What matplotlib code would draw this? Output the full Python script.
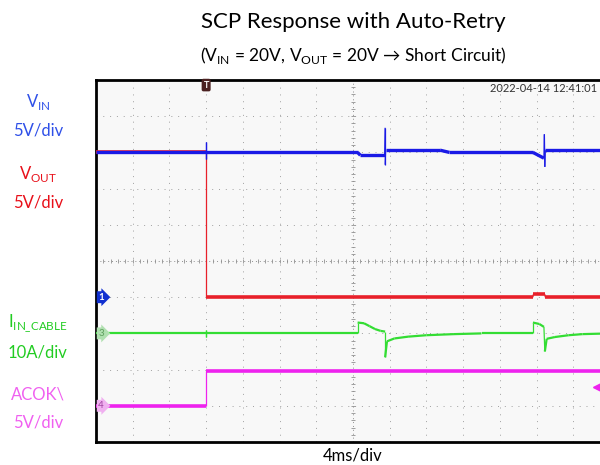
import matplotlib
matplotlib.use("Agg")
import matplotlib.pyplot as plt
from matplotlib.collections import LineCollection
import numpy as np

plt.rcParams['font.family'] = ['Lato', 'DejaVu Sans']
plt.rcParams['mathtext.fontset'] = 'custom'
plt.rcParams['mathtext.rm'] = 'Lato'

# --------- DATI (tempo in ms, trigger a 0) ---------
vin_t = [-12, 0, 0, 0, 0, 16.5, 16.8, 19.45, 19.5, 19.5, 19.55, 25.5, 26.5, 35.6, 36.8, 36.85, 36.9, 36.95, 44]
vin_v = [20.0, 20.0, 21.4, 19.1, 20.0, 20.0, 19.6, 19.6, 23.4, 18.3, 20.3, 20.3, 20.0, 20.0, 19.2, 22.5, 18.0, 20.3, 20.3]

vout_t = [-12, 0, 0, 35.6, 35.65, 36.9, 36.95, 44]
vout_v = [20.0, 20.0, 0.0, 0.0, 0.4, 0.4, 0.0, 0.0]

iin_t = [-12, 0, 0, 0, 0, 16.5, 16.5, 17.2, 17.8, 18.4, 19.0, 19.5, 19.5, 19.7, 20.5, 22, 24, 27, 30,
         35.6, 35.6, 36.3, 36.8, 36.9, 37.1, 38, 39.5, 41, 44]
iin_a = [0, 0, 1.0, -0.9, 0, 0, 3.0, 2.8, 2.0, 1.2, 0.7, 0.5, -6.6, -2.2, -1.4, -0.9, -0.5, -0.2, 0,
         0, 3.0, 2.6, 1.8, -5.0, -1.5, -1.0, -0.5, -0.2, 0]

acok_t = [-12, 0, 0, 44]
acok_v = [0.0, 0.0, 4.8, 4.8]

# scala (unita/div) e offset (div) dei canali
canali = {
    "vin": (5, 4.0),
    "vout": (5, 4.0),
    "iin": (10, 3.0),
    "acok": (5, 1.0),
}

def in_div(valori, canale):
    scala, offset = canali[canale]
    return np.array(valori) / scala + offset

def t_div(t):
    return np.array(t) / 4.0 + 3.0   # 4 ms/div, trigger a 3 div

def traccia(ax, t, v, canale, colore, spesso, sottile, z):
    # tratti orizzontali spessi, fronti verticali sottili (come sullo scope)
    x = t_div(t)
    y = in_div(v, canale)
    pts = np.column_stack([x, y])
    segs = np.stack([pts[:-1], pts[1:]], axis=1)
    larg = [spesso if x[i + 1] - x[i] > 0.04 else sottile for i in range(len(x) - 1)]
    ax.add_collection(LineCollection(segs, colors=colore, linewidths=larg, capstyle='butt', zorder=z))

# --------- FIGURA ---------
fig = plt.figure(figsize=(6, 4.65), dpi=100)
ax = fig.add_axes([96 / 600, 23 / 465, 514 / 600, 362 / 465])
ax.set_facecolor('#f8f8f8')
ax.set_xlim(0, 14)
ax.set_ylim(0, 10)
ax.set_xticks([])
ax.set_yticks([])
for s in ax.spines.values():
    s.set_linewidth(2)
    s.set_color('black')

# griglia
for gx in range(1, 14):
    if gx != 7:
        ax.axvline(gx, color='#a0a0a0', lw=0.7, ls=(0, (1, 6)), zorder=1)
for gy in range(1, 10):
    if gy != 5:
        ax.axhline(gy, color='#a0a0a0', lw=0.7, ls=(0, (1, 6)), zorder=1)
ax.axvline(7, color='#909090', lw=0.7, ls=(0, (1, 3)), zorder=1)
ax.axhline(5, color='#909090', lw=0.7, ls=(0, (1, 3)), zorder=1)
ax.plot(np.arange(0, 14.01, 0.2), np.full(71, 5), ls='none', marker='|', ms=3, mew=0.6, color='#909090', zorder=1)
ax.plot(np.full(51, 7), np.arange(0, 10.01, 0.2), ls='none', marker='_', ms=3, mew=0.6, color='#909090', zorder=1)

# tracce
traccia(ax, acok_t, acok_v, "acok", '#ee22ee', 2.6, 0.9, 3)
traccia(ax, iin_t, iin_a, "iin", '#33dd33', 1.6, 0.9, 4)
traccia(ax, vout_t, vout_v, "vout", '#e8202a', 2.6, 0.9, 5)
traccia(ax, vin_t, vin_v, "vin", '#1a1ae6', 2.4, 0.9, 6)

# marker canali
ax.text(0.06, 4.0, "1", color='white', fontsize=7, fontweight='bold', va='center', ha='left', zorder=8,
        bbox=dict(boxstyle='rarrow,pad=0.15', fc='#1030d0', ec='none'))
ax.text(0.06, 3.0, "3", color='#60a060', fontsize=7, va='center', ha='left', zorder=8,
        bbox=dict(boxstyle='rarrow,pad=0.15', fc='#b0e0b0', ec='none'))
ax.text(0.06, 1.0, "4", color='#a040a0', fontsize=7, va='center', ha='left', zorder=8,
        bbox=dict(boxstyle='rarrow,pad=0.15', fc='#f0b0f0', ec='none'))
ax.text(3.0, 9.86, "T", color='white', fontsize=6.5, fontweight='bold', va='center', ha='center', zorder=8,
        bbox=dict(boxstyle='round,pad=0.2', fc='#4a2020', ec='none'))
ax.plot([13.65], [1.52], marker='<', ms=6, color='#ee22ee', zorder=8)

# timestamp
fig.text(597 / 600, 1 - 88 / 465, "2022-04-14 12:41:01", fontsize=8, color='#333333', va='center', ha='right')

# titoli
fig.text(353 / 600, 1 - 22 / 465, "SCP Response with Auto-Retry", fontsize=16, ha='center', va='center')
fig.text(353 / 600, 1 - 55 / 465, r"(V$_\mathrm{IN}$ = 20V, V$_\mathrm{OUT}$ = 20V → Short Circuit)",
         fontsize=12.5, ha='center', va='center')
fig.text(353 / 600, 1 - 455 / 465, "4ms/div", fontsize=12, ha='center', va='center')

# etichette canali
etichette = [
    (r"V$_\mathrm{IN}$", 102, '#2f50e8'),
    ("5V/div", 130, '#2f50e8'),
    (r"V$_\mathrm{OUT}$", 174, '#e8101a'),
    ("5V/div", 203, '#e8101a'),
    (r"I$_\mathrm{IN\_CABLE}$", 323, '#22cc22'),
    ("10A/div", 352, '#22cc22'),
    ("ACOK\\", 394, '#f060f0'),
    ("5V/div", 422, '#f060f0'),
]
for testo, y, colore in etichette:
    fig.text(38 / 600, 1 - y / 465, testo, fontsize=12, color=colore, ha='center', va='center')

fig.savefig("out.png", dpi=100)
